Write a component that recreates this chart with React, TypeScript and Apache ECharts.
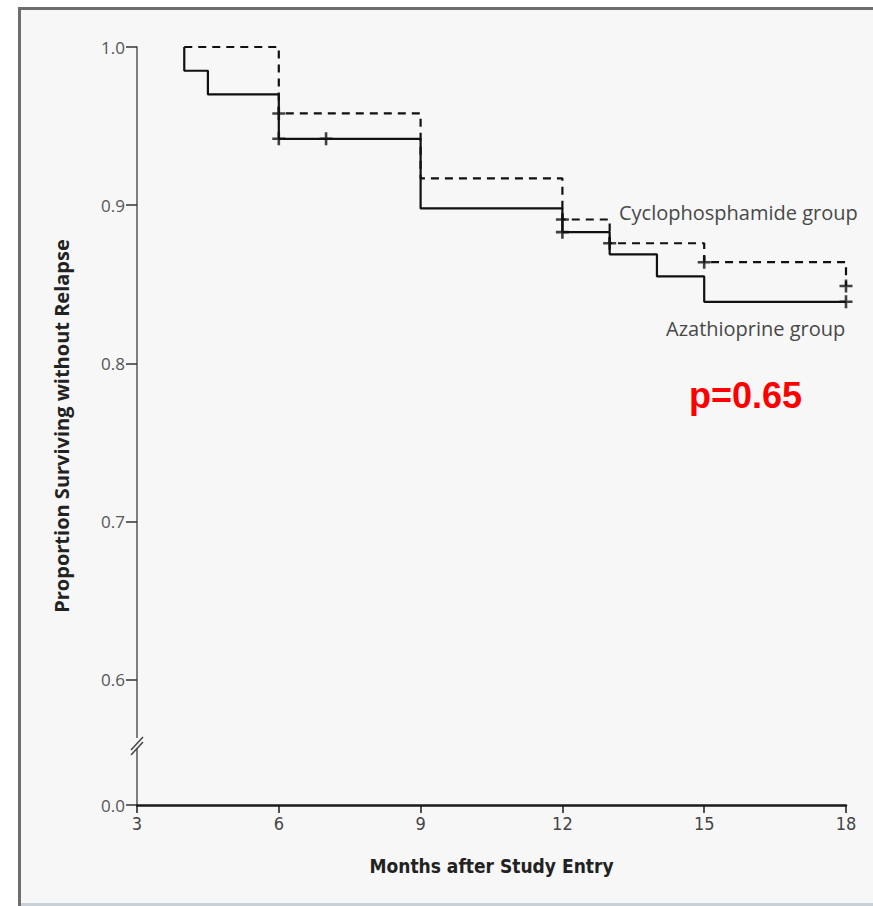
import React, { useEffect, useRef } from "react";
import * as echarts from "echarts";

// Months after study entry and survival proportions (step = end)
const azaTimes = [4, 4, 4.5, 6, 9, 12, 13, 14, 15, 18];
const azaValues = [1.0, 0.985, 0.97, 0.942, 0.898, 0.883, 0.869, 0.855, 0.839, 0.839];
const cycTimes = [4, 6, 9, 12, 13, 15, 18];
const cycValues = [1.0, 0.958, 0.917, 0.891, 0.876, 0.864, 0.849];

// Censored observations
const azaCensorTimes = [6, 7, 12, 18];
const azaCensorValues = [0.942, 0.942, 0.883, 0.839];
const cycCensorTimes = [6, 12, 13, 15, 18];
const cycCensorValues = [0.958, 0.891, 0.876, 0.864, 0.849];

const xTicks = [3, 6, 9, 12, 15, 18];
const yTicks = [0.6, 0.7, 0.8, 0.9, 1.0];
const yBreakValue = 0.521; // position of the "0.0" label after the axis break
const yBreakLabel = "0.0";

const PLUS = "path://M4,0h2v4h4v2h-4v4h-2v-4h-4v-2h4z";

export default function App() {
  const ref = useRef<HTMLDivElement>(null);
  useEffect(() => {
    document.body.style.margin = "0";
    const chart = echarts.init(ref.current!, null, { renderer: "svg" });
    const zip = (a: number[], b: number[]) => a.map((t, i) => [t, b[i]]);
    const labelFont = "'Open Sans', 'Noto Sans', sans-serif";
    const narrowFont = "'Liberation Sans Narrow', 'DejaVu Sans Condensed', 'Open Sans', sans-serif";
    chart.setOption({
      animation: false,
      backgroundColor: "#ffffff",
      grid: { left: 137, right: 27, top: 47, bottom: 101, containLabel: false },
      xAxis: {
        type: "value",
        min: 3,
        max: 18,
        interval: 3,
        axisLine: { show: true, lineStyle: { color: "#1a1a1a", width: 2.5 } },
        axisTick: { show: true, length: 8, lineStyle: { color: "#1a1a1a", width: 1.5 } },
        axisLabel: {
          customValues: xTicks,
          color: "#444",
          fontSize: 18,
          fontFamily: narrowFont,
          margin: 9,
        },
        splitLine: { show: false },
        name: "Months after Study Entry",
        nameLocation: "middle",
        nameGap: 51,
        nameTextStyle: { color: "#222", fontSize: 19, fontWeight: "bold", fontFamily: narrowFont },
      },
      yAxis: {
        type: "value",
        min: yBreakValue,
        max: 1.0,
        axisLine: { show: true, lineStyle: { color: "#555", width: 1.5 } },
        axisTick: {
          show: true,
          length: 11,
          customValues: [yBreakValue, ...yTicks],
          lineStyle: { color: "#333", width: 1.5 },
        },
        axisLabel: {
          customValues: [yBreakValue, ...yTicks],
          formatter: (v: number) => (v < 0.55 ? yBreakLabel : v.toFixed(1)),
          color: "#555",
          fontSize: 17,
          fontFamily: labelFont,
          margin: 12,
        },
        splitLine: { show: false },
        name: "Proportion Surviving without Relapse",
        nameLocation: "middle",
        nameGap: 66,
        nameTextStyle: { color: "#222", fontSize: 20, fontWeight: "bold", fontFamily: labelFont },
      },
      graphic: [
        { type: "rect", z: -10, silent: true, shape: { x: 18, y: 7, width: 900, height: 900 }, style: { fill: "#f7f7f7" } },
        { type: "rect", z: -9, silent: true, shape: { x: 18, y: 7, width: 3, height: 900 }, style: { fill: "#6e6e6e" } },
        { type: "rect", z: -9, silent: true, shape: { x: 18, y: 7, width: 900, height: 3 }, style: { fill: "#6e6e6e" } },
        { type: "rect", z: -9, silent: true, shape: { x: 21, y: 903, width: 900, height: 3 }, style: { fill: "#c8d0d8" } },
        { type: "rect", z: 10, silent: true, shape: { x: 134, y: 738, width: 6, height: 10 }, style: { fill: "#f7f7f7" } },
        { type: "line", z: 11, silent: true, shape: { x1: 131, y1: 750, x2: 143, y2: 737 }, style: { stroke: "#444", lineWidth: 1.5 } },
        { type: "line", z: 11, silent: true, shape: { x1: 131, y1: 755, x2: 143, y2: 742 }, style: { stroke: "#444", lineWidth: 1.5 } },
        {
          type: "text", z: 20, left: 619, top: 202,
          style: { text: "Cyclophosphamide group", fill: "#484848", fontSize: 20, fontFamily: labelFont },
        },
        {
          type: "text", z: 20, left: 666, top: 318,
          style: { text: "Azathioprine group", fill: "#484848", fontSize: 20, fontFamily: labelFont },
        },
        {
          type: "text", z: 20, left: 689, top: 377,
          style: { text: "p=0.65", fill: "#ff0000", fontSize: 36, fontWeight: "bold", fontFamily: "'Liberation Sans', Arial, sans-serif" },
        },
      ],
      series: [
        {
          name: "Cyclophosphamide group",
          type: "line",
          step: "end",
          data: zip(cycTimes, cycValues),
          showSymbol: false,
          lineStyle: { color: "#111", width: 2.2, type: [8, 6] },
        },
        {
          name: "Azathioprine group",
          type: "line",
          step: "end",
          data: zip(azaTimes, azaValues),
          showSymbol: false,
          lineStyle: { color: "#111", width: 2.2 },
        },
        {
          name: "Cyclophosphamide censored",
          type: "scatter",
          data: zip(cycCensorTimes, cycCensorValues),
          symbol: PLUS,
          symbolSize: 13,
          itemStyle: { color: "#111" },
        },
        {
          name: "Azathioprine censored",
          type: "scatter",
          data: zip(azaCensorTimes, azaCensorValues),
          symbol: PLUS,
          symbolSize: 13,
          itemStyle: { color: "#111" },
        },
      ],
    });
    return () => chart.dispose();
  }, []);
  return <div ref={ref} style={{ position: "fixed", left: 0, top: 0, width: 873, height: 906 }} />;
}
